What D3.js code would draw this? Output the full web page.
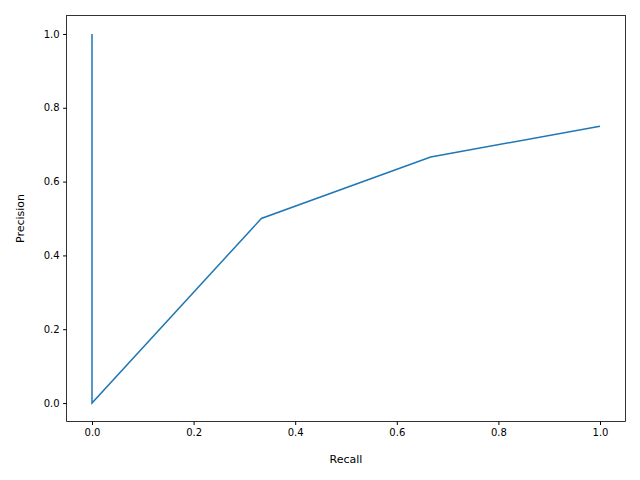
<!DOCTYPE html>
<html><head><meta charset="utf-8">
<script src="https://cdn.jsdelivr.net/npm/d3@7"></script>
<style>body{margin:0;background:#fff}text{font-family:"DejaVu Sans",sans-serif}</style>
</head><body>
<svg id="c" width="640" height="480"></svg>
<script>
var recall = [0, 0, 1/3, 2/3, 1];
var precision = [1, 0, 0.5, 2/3, 0.75];
var ticks = [0, 0.2, 0.4, 0.6, 0.8, 1.0];

var svg = d3.select("#c");
var mLeft = 66.6, mRight = 625.4, mTop = 15.5, mBottom = 421.5;
var x = d3.scaleLinear().domain([-0.05, 1.05]).range([mLeft, mRight]);
var y = d3.scaleLinear().domain([-0.05, 1.05]).range([mBottom, mTop]);

var fmt = d3.format(".1f");
svg.append("g").attr("transform", "translate(0," + mBottom + ")")
    .call(d3.axisBottom(x).tickValues(ticks).tickFormat(fmt).tickSizeOuter(0).tickSize(3.5).tickPadding(3.5))
    .call(function(g){ g.select(".domain").remove(); g.selectAll("text").attr("font-size", 10).attr("fill","#000"); });
svg.append("g").attr("transform", "translate(" + mLeft + ",0)")
    .call(d3.axisLeft(y).tickValues(ticks).tickFormat(fmt).tickSizeOuter(0).tickSize(3.5).tickPadding(3.5))
    .call(function(g){ g.select(".domain").remove(); g.selectAll("text").attr("font-size", 10).attr("fill","#000"); });

svg.append("rect").attr("x", mLeft).attr("y", mTop).attr("width", mRight - mLeft).attr("height", mBottom - mTop)
    .attr("fill", "none").attr("stroke", "#000").attr("stroke-width", 0.8);

var line = d3.line().x(function(d, i){ return x(recall[i]); }).y(function(d){ return y(d); });
svg.append("path").datum(precision).attr("d", line)
    .attr("fill", "none").attr("stroke", "#1f77b4").attr("stroke-width", 1.5);

svg.append("text").attr("x", (mLeft + mRight) / 2).attr("y", 463).attr("text-anchor", "middle")
    .attr("font-size", 11).text("Recall");
svg.append("text").attr("transform", "translate(24," + (mTop + mBottom) / 2 + ") rotate(-90)")
    .attr("text-anchor", "middle").attr("font-size", 11).text("Precision");
</script>
</body></html>
